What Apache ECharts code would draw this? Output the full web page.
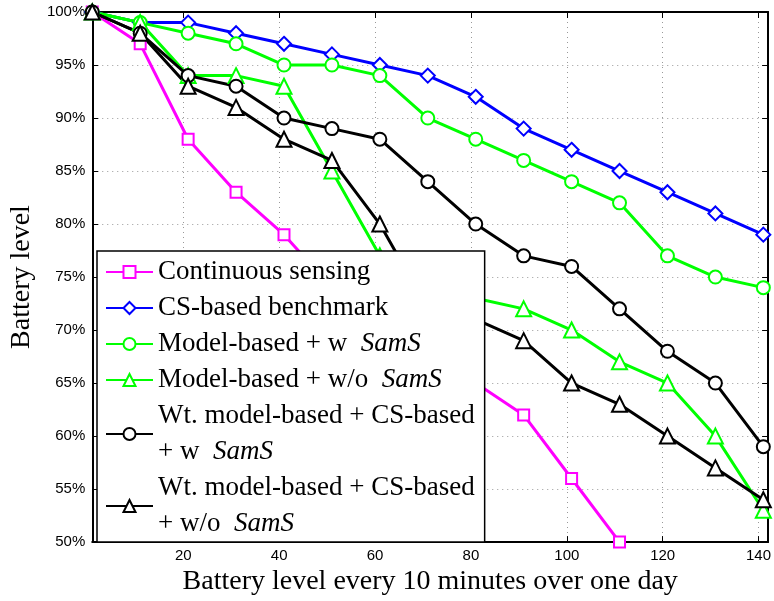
<!DOCTYPE html>
<html>
<head>
<meta charset="utf-8">
<script src="https://cdn.jsdelivr.net/npm/echarts@6/dist/echarts.min.js"></script>
<style>
  html, body { margin: 0; padding: 0; background: #fff; }
  #chart { width: 774px; height: 601px; }
</style>
</head>
<body>
<div id="chart"></div>
<script>
// Sample index (one sample every 10 minutes)
const samples = [1, 11, 21, 31, 41, 51, 61, 71, 81, 91, 101, 111, 121, 131, 141];
const xTicks = [20, 40, 60, 80, 100, 120, 140];

// Battery level (%) per scheme
const continuousSensing = [100, 97, 88, 83, 79, 74, 71, 68, 65, 62, 56, 50];
const csBenchmark      = [100, 99, 99, 98, 97, 96, 95, 94, 92, 89, 87, 85, 83, 81, 79];
const modelWithSamS    = [100, 99, 98, 97, 95, 95, 94, 90, 88, 86, 84, 82, 77, 75, 74];
const modelWithoutSamS = [100, 99, 94, 94, 93, 85, 77, 74, 73, 72, 70, 67, 65, 60, 53];
const wtWithSamS       = [100, 98, 94, 93, 90, 89, 88, 84, 80, 77, 76, 72, 68, 65, 59];
const wtWithoutSamS    = [100, 98, 93, 91, 88, 86, 80, 72, 71, 69, 65, 63, 60, 57, 54];

const seriesDefs = [
  { name: 'cs',   label: 'Continuous sensing',                     color: '#ff00ff', symbol: 'emptyRect',     size: 11, values: continuousSensing },
  { name: 'csb',  label: 'CS-based benchmark',                     color: '#0000ff', symbol: 'emptyDiamond',  size: 14, values: csBenchmark },
  { name: 'mw',   label: 'Model-based + w  {i|SamS}',              color: '#00ff00', symbol: 'emptyCircle',   size: 13, values: modelWithSamS },
  { name: 'mwo',  label: 'Model-based + w/o  {i|SamS}',            color: '#00ff00', symbol: 'emptyTriangle', size: 15, values: modelWithoutSamS },
  { name: 'ww',   label: 'Wt. model-based + CS-based\n+ w  {i|SamS}',   color: '#000000', symbol: 'emptyCircle',   size: 13, values: wtWithSamS },
  { name: 'wwo',  label: 'Wt. model-based + CS-based\n+ w/o  {i|SamS}', color: '#000000', symbol: 'emptyTriangle', size: 15, values: wtWithoutSamS }
];

const labelMap = {};
seriesDefs.forEach(d => { labelMap[d.name] = d.label; });

const serif = '"Liberation Serif", "DejaVu Serif", serif';
const sans = '"Liberation Sans", Arial, sans-serif';

const gridLine = { show: true, lineStyle: { color: '#999', width: 1, type: [1, 4] } };
const frameLine = { show: true, lineStyle: { color: '#000', width: 2 } };

const chart = echarts.init(document.getElementById('chart'), null, { renderer: 'canvas' });

chart.setOption({
  backgroundColor: '#fff',
  animation: false,
  grid: { left: 89, right: 5, top: 12, bottom: 53, containLabel: false },
  xAxis: [
    {
      type: 'value', position: 'bottom', min: 1, max: 142,
      name: 'Battery level every 10 minutes over one day',
      nameLocation: 'middle', nameGap: 22,
      nameTextStyle: { fontFamily: serif, fontSize: 28, color: '#000' },
      axisLine: frameLine,
      axisTick: { show: true, inside: true, length: 6, customValues: xTicks, lineStyle: { color: '#000', width: 1 } },
      axisLabel: { customValues: xTicks, margin: 6, fontFamily: sans, fontSize: 15, color: '#000' },
      splitLine: gridLine
    },
    {
      type: 'value', position: 'top', min: 1, max: 142,
      axisLine: frameLine,
      axisTick: { show: true, inside: true, length: 6, customValues: xTicks, lineStyle: { color: '#000', width: 1 } },
      axisLabel: { show: false },
      splitLine: { show: false }
    }
  ],
  yAxis: [
    {
      type: 'value', position: 'left', min: 50, max: 100, interval: 5,
      name: 'Battery level', nameLocation: 'middle', nameGap: 56,
      nameTextStyle: { fontFamily: serif, fontSize: 28, color: '#000' },
      axisLine: frameLine,
      axisTick: { show: true, inside: true, length: 6, lineStyle: { color: '#000', width: 1 } },
      axisLabel: { margin: 7, fontFamily: sans, fontSize: 15, color: '#000', formatter: '{value}%' },
      splitLine: gridLine
    },
    {
      type: 'value', position: 'right', min: 50, max: 100, interval: 5,
      axisLine: frameLine,
      axisTick: { show: true, inside: true, length: 6, lineStyle: { color: '#000', width: 1 } },
      axisLabel: { show: false },
      splitLine: { show: false }
    }
  ],
  legend: {
    orient: 'vertical',
    left: 97, top: 251,
    padding: [3, 10, 0, 8],
    itemGap: 0,
    itemWidth: 47,
    itemHeight: 15,
    backgroundColor: '#fff',
    borderColor: '#000',
    borderWidth: 1.5,
    selectedMode: false,
    data: seriesDefs.map(d => d.name),
    formatter: name => labelMap[name],
    textStyle: {
      fontFamily: serif, fontSize: 27, color: '#000', lineHeight: 36,
      rich: { i: { fontStyle: 'italic', fontFamily: serif, fontSize: 27, lineHeight: 36 } }
    }
  },
  series: seriesDefs.map(d => ({
    type: 'line',
    name: d.name,
    xAxisIndex: 0, yAxisIndex: 0,
    data: d.values.map((v, i) => [samples[i], v]),
    symbol: d.symbol,
    symbolSize: d.size,
    showAllSymbol: true,
    color: d.color,
    lineStyle: { color: d.color, width: 3 },
    itemStyle: { color: d.color, borderColor: d.color, borderWidth: 2 },
    emphasis: { disabled: true }
  }))
});
</script>
</body>
</html>
